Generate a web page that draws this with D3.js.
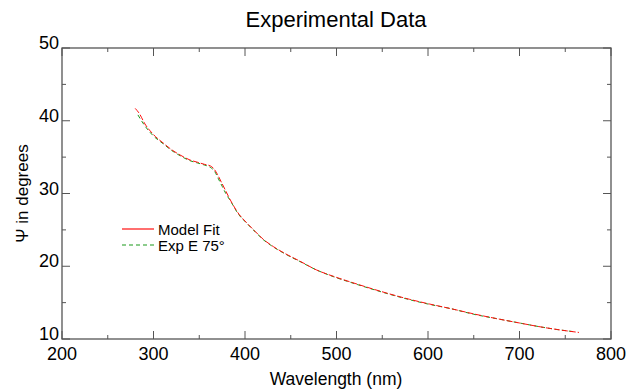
<!DOCTYPE html>
<html>
<head>
<meta charset="utf-8">
<script src="https://cdn.jsdelivr.net/npm/d3@7"></script>
<style>
  body { margin: 0; background: #fff; }
  text { font-family: "Liberation Sans", Arial, sans-serif; fill: #000; }
</style>
</head>
<body>
<svg id="chart" width="627" height="390"></svg>
<script>
// model fit (red solid)
var modelWl  = [280, 285, 290, 300, 311, 320, 329, 340, 348, 356, 362, 366, 370, 374, 378, 384, 392, 402, 411, 420, 431, 446, 460, 478, 497, 515, 530, 558, 580, 602, 624, 650, 675, 700, 726, 744, 765]
var modelPsi = [41.7, 40.9, 39.7, 38.1, 36.9, 36.0, 35.3, 34.6, 34.3, 34.0, 33.8, 33.4, 32.6, 31.6, 30.6, 29.1, 27.4, 25.95, 24.8, 23.7, 22.7, 21.6, 20.7, 19.5, 18.6, 17.85, 17.25, 16.2, 15.45, 14.8, 14.2, 13.45, 12.8, 12.2, 11.6, 11.25, 10.9]

// experimental data (green dashed)
var expWl  = [283, 290, 300, 311, 320, 329, 340, 348, 356, 362, 367, 371, 375, 379, 385, 392, 402, 411, 420, 431, 446, 460, 478, 497, 515, 530, 558, 580, 602, 624, 650, 675, 700, 726, 744, 760]
var expPsi = [40.8, 39.4, 37.9, 36.8, 35.9, 35.2, 34.5, 34.2, 33.9, 33.6, 33.0, 32.0, 31.0, 30.0, 28.8, 27.3, 25.9, 24.75, 23.65, 22.65, 21.55, 20.65, 19.5, 18.55, 17.8, 17.2, 16.15, 15.4, 14.75, 14.2, 13.4, 12.8, 12.2, 11.6, 11.25, 11.0]

var xTicks = [200, 300, 400, 500, 600, 700, 800]
var yTicks = [10, 20, 30, 40, 50]
var legendLabels = ['Model Fit', 'Exp E 75\u00b0']

var margin = {left: 62, right: 16, top: 48, bottom: 51}
var width = 627 - margin.left - margin.right
var height = 390 - margin.top - margin.bottom

var svg = d3.select('#chart')
var g = svg.append('g').attr('transform', 'translate(' + margin.left + ',' + margin.top + ')')

var x = d3.scaleLinear().domain([200, 800]).range([0, width])
var y = d3.scaleLinear().domain([10, 50]).range([height, 0])

var minorX = d3.range(200, 801, 50)
var minorY = d3.range(10, 51, 5)

function tickLen(v, step) { return v % step === 0 ? 8 : 4 }

// ticks, pointing inward on all four sides
var tickColor = '#555'
g.selectAll('.xb').data(minorX).enter().append('line')
    .attr('x1', d => x(d)).attr('x2', d => x(d))
    .attr('y1', height).attr('y2', d => height - tickLen(d, 100))
    .attr('stroke', tickColor)
g.selectAll('.xt').data(minorX).enter().append('line')
    .attr('x1', d => x(d)).attr('x2', d => x(d))
    .attr('y1', 0).attr('y2', d => tickLen(d, 100))
    .attr('stroke', tickColor)
g.selectAll('.yl').data(minorY).enter().append('line')
    .attr('y1', d => y(d)).attr('y2', d => y(d))
    .attr('x1', 0).attr('x2', d => tickLen(d, 10))
    .attr('stroke', tickColor)
g.selectAll('.yr').data(minorY).enter().append('line')
    .attr('y1', d => y(d)).attr('y2', d => y(d))
    .attr('x1', width).attr('x2', d => width - tickLen(d, 10))
    .attr('stroke', tickColor)

g.append('rect')
    .attr('width', width).attr('height', height)
    .attr('fill', 'none').attr('stroke', tickColor).attr('stroke-width', 1.3)

// tick labels
g.selectAll('.xlab').data(xTicks).enter().append('text')
    .text(d => d)
    .attr('x', d => x(d)).attr('y', height + 21)
    .attr('text-anchor', 'middle').attr('font-size', '18px')
g.selectAll('.ylab').data(yTicks).enter().append('text')
    .text(d => d)
    .attr('x', -3).attr('y', d => y(d) + 1)
    .attr('text-anchor', 'end').attr('font-size', '18px')

// titles
svg.append('text')
    .text('Experimental Data')
    .attr('x', 336).attr('y', 27)
    .attr('text-anchor', 'middle').attr('font-size', '22px')
svg.append('text')
    .text('Wavelength (nm)')
    .attr('x', 336).attr('y', 385)
    .attr('text-anchor', 'middle').attr('font-size', '17.5px')
svg.append('text')
    .text('\u03a8 in degrees')
    .attr('transform', 'translate(28,' + (margin.top + height / 2) + ') rotate(-90)')
    .attr('text-anchor', 'middle').attr('font-size', '17px')

// curves
var line = d3.line().x(d => x(d[0])).y(d => y(d[1])).curve(d3.curveMonotoneX)

g.append('path')
    .datum(d3.zip(expWl, expPsi))
    .attr('d', line)
    .attr('fill', 'none').attr('stroke', '#1a9a1a').attr('stroke-width', 1)
    .attr('stroke-dasharray', '4,3')

g.append('path')
    .datum(d3.zip(modelWl, modelPsi))
    .attr('d', line)
    .attr('fill', 'none').attr('stroke', '#ff1010').attr('stroke-width', 1)
    .attr('stroke-dasharray', '6,2')

// legend
var legend = svg.append('g').attr('transform', 'translate(122,229)')
legend.append('line')
    .attr('x1', 0).attr('x2', 32).attr('y1', 0).attr('y2', 0)
    .attr('stroke', '#ff1010').attr('stroke-width', 1.2)
legend.append('line')
    .attr('x1', 0).attr('x2', 32).attr('y1', 16).attr('y2', 16)
    .attr('stroke', '#1a9a1a').attr('stroke-width', 1.2).attr('stroke-dasharray', '4,3')
legend.selectAll('text').data(legendLabels).enter().append('text')
    .text(d => d)
    .attr('x', 36).attr('y', (d, i) => i * 16 + 5.5)
    .attr('font-size', '15px')
</script>
</body>
</html>
